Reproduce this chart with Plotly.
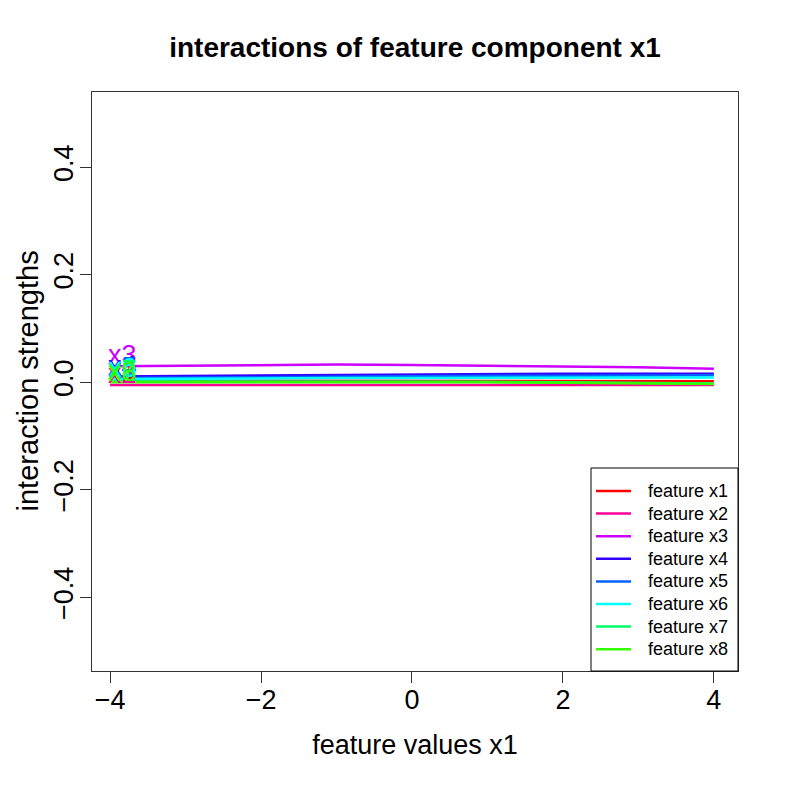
import plotly.graph_objects as go

x_vals = [-4, -3, -2, -1, 0, 1, 2, 3, 4]

x1_vals = [0.003, 0.003, 0.003, 0.003, 0.003, 0.003, 0.003, 0.002, 0.002]
x2_vals = [-0.005, -0.005, -0.005, -0.005, -0.004, -0.004, -0.004, -0.005, -0.005]
x3_vals = [0.030, 0.031, 0.032, 0.033, 0.032, 0.031, 0.030, 0.028, 0.025]
x4_vals = [0.011, 0.012, 0.013, 0.014, 0.015, 0.015, 0.016, 0.016, 0.016]
x5_vals = [0.008, 0.009, 0.010, 0.011, 0.012, 0.012, 0.012, 0.013, 0.013]
x6_vals = [0.006, 0.007, 0.007, 0.008, 0.008, 0.008, 0.009, 0.009, 0.009]
x7_vals = [0.002, 0.002, 0.002, 0.002, 0.002, 0.001, 0.000, -0.001, -0.002]
x8_vals = [0.000, 0.000, 0.001, 0.001, 0.001, 0.000, -0.001, -0.002, -0.003]

series = [x1_vals, x2_vals, x3_vals, x4_vals, x5_vals, x6_vals, x7_vals, x8_vals]
names = ['feature x1', 'feature x2', 'feature x3', 'feature x4',
         'feature x5', 'feature x6', 'feature x7', 'feature x8']
labels = ['x1', 'x2', 'x3', 'x4', 'x5', 'x6', 'x7', 'x8']
colors = ['#FF0000', '#FF0099', '#CC00FF', '#3300FF',
          '#0066FF', '#00FFFF', '#00FF66', '#33FF00']

font = 'Liberation Sans, Arial, sans-serif'
W = 777  # page body adds an 8px margin
L, R, T, B = 84, 47, 84, 114
pw, ph = W - L - R, W - T - B

fig = go.Figure()
for i, vals in enumerate(series):
    fig.add_trace(go.Scatter(x=x_vals, y=vals, mode='lines', name=names[i],
                             line=dict(color=colors[i], width=2.5),
                             showlegend=False))

# text labels at the start of each curve
for i, vals in enumerate(series):
    fig.add_annotation(x=-3.84, y=vals[0] + 0.02, text=labels[i], showarrow=False,
                       font=dict(family=font, size=27, color=colors[i]))

# R-style legend box in the bottom-right corner (pixel offsets inside plot area)
def px(v):
    return v / pw

def py(v):
    return v / ph

box_left, box_top = 499, 376
fig.add_shape(type='rect', xref='paper', yref='paper',
              x0=px(box_left), x1=1, y0=0, y1=1 - py(box_top),
              line=dict(color='black', width=1), fillcolor='white', layer='above')
for i, name in enumerate(names):
    yy = 1 - py(399 + 22.6 * i)
    fig.add_shape(type='line', xref='paper', yref='paper',
                  x0=px(504), x1=px(539), y0=yy, y1=yy,
                  line=dict(color=colors[i], width=2.5), layer='above')
    fig.add_annotation(xref='paper', yref='paper', x=px(554), y=yy, text=name,
                       xanchor='left', yanchor='middle', showarrow=False,
                       font=dict(family=font, size=18, color='black'))

# y axis title, placed like R's mtext
fig.add_annotation(xref='paper', yref='paper', x=px(-65), y=0.5,
                   text='interaction strengths', textangle=-90, showarrow=False,
                   xanchor='center', yanchor='middle',
                   font=dict(family=font, size=29, color='black'))

fig.update_layout(
    width=W, height=W,
    paper_bgcolor='white', plot_bgcolor='white',
    margin=dict(l=L, r=R, t=T, b=B),
    font=dict(family=font, size=27, color='black'),
    title=dict(text='<b>interactions of feature component x1</b>',
               x=(L + W - R) / 2 / W, xanchor='center',
               y=1 - 39 / W, yanchor='middle',
               font=dict(size=28)),
    showlegend=False,
)
fig.update_xaxes(range=[-4.24, 4.32], tickvals=[-4, -2, 0, 2, 4],
                 ticks='outside', ticklen=11, tickcolor='#333',
                 ticklabelstandoff=-6, automargin=False,
                 showline=True, linecolor='#333', mirror=True,
                 showgrid=False, zeroline=False,
                 title=dict(text='feature values x1', standoff=20,
                            font=dict(size=27)))
fig.update_yaxes(range=[-0.537, 0.54], tickvals=[-0.4, -0.2, 0, 0.2, 0.4],
                 tickformat='.1f', tickangle=-90,
                 ticks='outside', ticklen=11, tickcolor='#333',
                 ticklabelstandoff=-4, automargin=False,
                 showline=True, linecolor='#333', mirror=True,
                 showgrid=False, zeroline=False)

fig.write_html('out.html')
